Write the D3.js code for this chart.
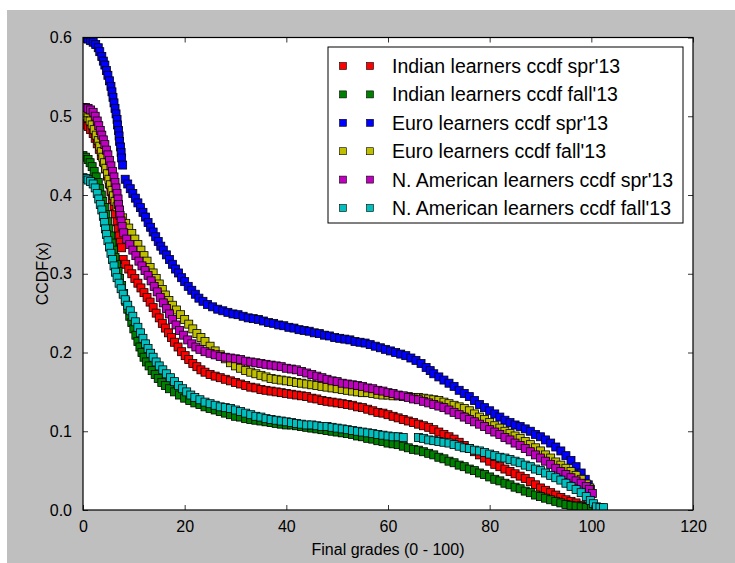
<!DOCTYPE html>
<html lang="en">
<head>
  <meta charset="UTF-8">
  <title>CCDF of final grades</title>
  <script src="https://cdn.jsdelivr.net/npm/d3@7"></script>
  <style>
    body { margin: 0; background: #fff; }
    svg { display: block; }
    text { font-family: "Liberation Sans", Arial, Helvetica, sans-serif; fill: #000; }
    .tick-label { font-size: 16px; }
    .axis-label { font-size: 16px; }
    .legend-text { font-size: 19.5px; }
  </style>
</head>
<body>
<div id="chart"></div>

<script>
  // series names, in the order they were plotted
  var seriesNames = [
    "Indian learners ccdf spr'13",
    "Indian learners ccdf fall'13",
    "Euro learners ccdf spr'13",
    "Euro learners ccdf fall'13",
    "N. American learners ccdf spr'13",
    "N. American learners ccdf fall'13"
  ];
  var seriesColors = ["#ff0000", "#008000", "#0000ff", "#bfbf00", "#bf00bf", "#00bfbf"];

  var xTicks = [0, 20, 40, 60, 80, 100, 120];
  var yTicks = [0.0, 0.1, 0.2, 0.3, 0.4, 0.5, 0.6];

  // [grade, ccdf]
  var indianSpr = [[0,0.490],[0.5,0.489],[1,0.487],[1.5,0.483],[2,0.478],[2.4,0.472],[2.8,0.465],[3.2,0.458],[3.6,0.450],[4,0.442],[4.4,0.433],[4.8,0.424],[5.2,0.414],[5.5,0.404],[5.8,0.394],[6.1,0.385],[6.4,0.376],[6.7,0.366],[7,0.357],[7.2,0.348],[7.4,0.340],[7.6,0.333],
    [7.9,0.318],[8.4,0.312],[9,0.306],[9.6,0.300],[10.2,0.294],[10.8,0.288],[11.4,0.282],[12,0.276],[12.6,0.270],[13.2,0.264],[13.8,0.257],[14.4,0.250],[15,0.244],[15.6,0.237],[16.2,0.231],[16.8,0.225],[17.4,0.219],[18,0.213],[18.7,0.207],[19.4,0.201],[20.1,0.196],[20.8,0.191],[21.6,0.186],[22.4,0.182],[23.2,0.178],[24,0.175],
    [25,0.172],[26,0.170],[27,0.168],[28,0.166],[29,0.164],[30,0.162],[31,0.160],[32,0.158],[33,0.156],[34,0.155],[35,0.153],[36,0.152],[37,0.151],[38,0.150],[39,0.149],[40,0.148],[41,0.147],[42,0.146],[43,0.145],[44,0.144],[45,0.142],[46,0.141],[47,0.139],[48,0.138],[49,0.137],[50,0.136],
    [51,0.135],[52,0.134],[53,0.133],[54,0.131],[55,0.130],[56,0.128],[57,0.126],[58,0.124],[59,0.123],[60,0.121],[61,0.119],[62,0.117],[63,0.115],[64,0.113],[65,0.111],[66,0.109],[67,0.107],[68,0.105],[69,0.102],[70,0.099],[71,0.096],[72,0.093],[73,0.090],[74,0.086],[75,0.082],
    [76,0.078],[77,0.074],[78,0.070],[79,0.066],[80,0.062],[81,0.058],[82,0.055],[83,0.052],[84,0.049],[85,0.046],[86,0.043],[87,0.040],[88,0.036],[89,0.032],[90,0.028],[91,0.025],[92,0.022],[93,0.019],[94,0.016],[95,0.013],[96,0.011],[97,0.009],[98,0.006],[99,0.004],[100,0.002]];

  var indianFall = [[0,0.450],[0.5,0.448],[1,0.445],[1.4,0.441],[1.8,0.436],[2.2,0.430],[2.6,0.423],[3,0.416],[3.3,0.408],[3.6,0.400],[3.9,0.392],[4.2,0.384],[4.5,0.375],[4.8,0.366],[5.1,0.357],[5.4,0.348],[5.7,0.339],[6,0.330],[6.3,0.321],[6.6,0.312],[6.9,0.303],[7.2,0.294],[7.6,0.285],
    [8,0.275],[8.4,0.265],[8.8,0.255],[9.2,0.246],[9.6,0.238],[10,0.230],[10.4,0.222],[10.8,0.214],[11.2,0.207],[11.6,0.200],[12,0.194],[12.5,0.188],[13,0.183],[13.6,0.177],[14.2,0.172],[14.8,0.167],[15.5,0.162],[16.2,0.158],[17,0.154],[18,0.150],[19,0.146],[20,0.142],
    [21,0.139],[22,0.136],[23,0.134],[24,0.131],[25,0.129],[26,0.127],[27,0.125],[28,0.123],[29,0.121],[30,0.119],[31,0.118],[32,0.116],[33,0.115],[34,0.114],[35,0.113],[36,0.112],[37,0.111],[38,0.110],[39,0.109],[40,0.108],[41,0.108],[42,0.107],[43,0.106],[44,0.105],[45,0.104],
    [46,0.103],[47,0.102],[48,0.101],[49,0.100],[50,0.099],[51,0.098],[52,0.097],[53,0.096],[54,0.094],[55,0.093],[56,0.091],[57,0.090],[58,0.088],[59,0.087],[60,0.085],[61,0.084],[62,0.083],[63,0.081],[64,0.079],[65,0.077],[66,0.076],[67,0.074],[68,0.072],[69,0.070],[70,0.067],
    [71,0.065],[72,0.062],[73,0.060],[74,0.057],[75,0.055],[76,0.052],[77,0.050],[78,0.047],[79,0.045],[80,0.042],[81,0.039],[82,0.037],[83,0.034],[84,0.032],[85,0.029],[86,0.027],[87,0.024],[88,0.022],[89,0.019],[90,0.017],[91,0.015],[92,0.013],[93,0.011],[94,0.009],[95,0.007],
    [96,0.006],[97,0.005],[98,0.004],[99,0.003],[100,0.002]];

  var euroSpr = [[0,0.600],[0.5,0.599],[1,0.598],[1.5,0.596],[2,0.594],[2.5,0.591],[3,0.587],[3.3,0.582],[3.7,0.576],[4,0.570],[4.3,0.565],[4.6,0.558],[4.9,0.552],[5.2,0.545],[5.5,0.538],[5.7,0.531],[5.9,0.524],[6.1,0.517],[6.3,0.510],[6.5,0.503],[6.7,0.496],[6.8,0.489],[7,0.482],
    [7.1,0.475],[7.2,0.468],[7.4,0.461],[7.5,0.454],[7.6,0.447],[7.8,0.438],
    [8.3,0.420],[8.8,0.414],[9.3,0.408],[9.8,0.402],[10.3,0.396],[10.8,0.390],[11.3,0.384],[11.8,0.378],[12.3,0.372],[12.8,0.365],[13.3,0.359],[13.8,0.353],[14.3,0.347],[14.8,0.341],[15.3,0.335],[15.8,0.330],[16.4,0.324],[17,0.318],[17.6,0.312],[18.2,0.306],[18.8,0.301],
    [19.4,0.295],[20,0.290],[20.7,0.284],[21.4,0.279],[22.1,0.274],[22.8,0.269],[23.6,0.265],[24.5,0.261],[25.5,0.258],[26.5,0.255],[27.5,0.253],[28.5,0.251],[29.5,0.249],[30.5,0.248],[31.5,0.246],[32.5,0.244],[33.5,0.243],[34.5,0.242],[35.5,0.240],[36.5,0.238],[37.5,0.237],
    [38.5,0.235],[39.5,0.234],[40.5,0.232],[41.5,0.231],[42.5,0.229],[43.5,0.228],[44.5,0.227],[45.5,0.225],[46.5,0.224],[47.5,0.222],[48.5,0.221],[49.5,0.219],[50.5,0.218],[51.5,0.217],[52.5,0.216],[53.5,0.214],[54.5,0.213],[55.5,0.212],[56.5,0.210],[57.5,0.208],[58.5,0.206],
    [59.5,0.204],[60.5,0.202],[61.5,0.200],[62.5,0.198],[63.5,0.196],[64.5,0.193],[65.5,0.190],[66.5,0.186],[67.5,0.181],[68.3,0.177],[69,0.173],[70,0.169],[71,0.165],[72,0.161],[73,0.157],[74,0.152],[75,0.148],[76,0.144],[77,0.139],[78,0.134],[79,0.130],[80,0.126],[81,0.122],
    [82,0.118],[83,0.114],[84,0.111],[85,0.108],[86,0.106],[87,0.103],[88,0.100],[89,0.096],[90,0.093],[91,0.089],[92,0.085],[93,0.080],[94,0.075],[95,0.069],[96,0.063],[97,0.055],[98,0.047],[98.8,0.039],[99.4,0.032],[99.8,0.026]];

  var euroFall = [[0,0.503],[0.5,0.501],[1,0.498],[1.4,0.494],[1.8,0.489],[2.2,0.483],[2.6,0.476],[3,0.469],[3.3,0.462],[3.6,0.455],[3.9,0.448],[4.2,0.441],[4.5,0.434],[4.8,0.427],[5.1,0.420],[5.4,0.413],[5.7,0.406],[6,0.399],[6.3,0.392],[6.7,0.385],[7.2,0.378],[7.8,0.371],
    [8.4,0.364],[9,0.358],[9.6,0.351],[10.2,0.344],[10.8,0.337],[11.4,0.330],[12,0.323],[12.6,0.316],[13.2,0.308],[13.8,0.301],[14.4,0.294],[15,0.287],[15.6,0.280],[16.2,0.273],[16.9,0.266],[17.6,0.260],[18.4,0.254],[19.2,0.248],[20,0.242],[20.8,0.236],[21.6,0.230],
    [22.4,0.224],[23.2,0.219],[24,0.214],[25,0.208],[26,0.202],[27,0.197],[28,0.192],[29,0.187],[30,0.183],[31,0.180],[32,0.177],[33,0.175],[34,0.173],[35,0.171],[36,0.169],[37,0.167],[38,0.166],[39,0.165],[40,0.164],[41,0.163],[42,0.162],[43,0.161],[44,0.160],[45,0.159],
    [46,0.158],[47,0.157],[48,0.156],[49,0.155],[50,0.154],[51,0.153],[52,0.152],[53,0.151],[54,0.150],[55,0.149],[56,0.149],[57,0.148],[58,0.147],[59,0.146],[60,0.146],[61,0.145],[62,0.145],[63,0.144],[64,0.144],[65,0.143],[66,0.143],[67,0.142],[68,0.141],[69,0.140],[70,0.139],
    [71,0.137],[72,0.135],[73,0.133],[74,0.131],[75,0.129],[76,0.126],[77,0.122],[78,0.118],[79,0.115],[80,0.111],[81,0.107],[82,0.104],[83,0.100],[84,0.097],[85,0.094],[86,0.091],[87,0.087],[88,0.083],[89,0.079],[90,0.075],[91,0.070],[92,0.066],[93,0.061],[94,0.057],[95,0.053],
    [96,0.049],[97,0.044],[98,0.039],[99,0.033],[99.7,0.028]];

  var naSpr = [[0,0.511],[0.5,0.511],[1,0.510],[1.5,0.508],[2,0.505],[2.4,0.500],[2.8,0.494],[3.1,0.488],[3.4,0.482],[3.7,0.476],[4,0.470],[4.3,0.464],[4.6,0.457],[4.9,0.451],[5.2,0.444],[5.5,0.437],[5.8,0.430],[6.1,0.423],[6.3,0.416],[6.5,0.409],[6.7,0.402],[6.9,0.395],[7,0.388],
    [7.2,0.381],[7.3,0.374],[7.5,0.367],[7.7,0.360],[8,0.352],[8.6,0.344],[9.2,0.337],[9.8,0.330],[10.4,0.323],[11,0.316],[11.6,0.310],[12.2,0.304],[12.8,0.298],[13.4,0.291],[14,0.284],[14.6,0.277],[15.2,0.270],[15.8,0.263],[16.4,0.256],[17,0.249],[17.6,0.242],[18.3,0.235],
    [19,0.228],[19.8,0.222],[20.6,0.216],[21.4,0.211],[22.2,0.207],[23,0.204],[24,0.201],[25,0.199],[26,0.197],[27,0.195],[28,0.194],[29,0.193],[30,0.192],[31,0.191],[32,0.189],[33,0.188],[34,0.187],[35,0.186],[36,0.185],[37,0.184],[38,0.183],[39,0.182],[40,0.180],[41,0.179],
    [42,0.178],[43,0.176],[44,0.174],[45,0.172],[46,0.170],[47,0.168],[48,0.166],[49,0.164],[50,0.163],[51,0.161],[52,0.160],[53,0.159],[54,0.158],[55,0.157],[56,0.155],[57,0.154],[58,0.152],[59,0.151],[60,0.149],[61,0.148],[62,0.146],[63,0.145],[64,0.143],[65,0.141],[66,0.140],
    [67,0.138],[68,0.136],[69,0.134],[70,0.132],[71,0.130],[72,0.127],[73,0.124],[74,0.121],[75,0.118],[76,0.115],[77,0.112],[78,0.109],[79,0.106],[80,0.102],[81,0.099],[82,0.096],[83,0.092],[84,0.089],[85,0.085],[86,0.082],[87,0.078],[88,0.074],[89,0.070],[90,0.066],[91,0.062],
    [92,0.058],[93,0.053],[94,0.049],[95,0.045],[96,0.041],[97,0.037],[98,0.034],[99,0.030],[99.6,0.026],[100.2,0.021]];

  var naFall = [[0,0.422],[0.5,0.421],[1,0.419],[1.5,0.417],[2,0.414],[2.4,0.409],[2.8,0.402],[3.1,0.395],[3.4,0.388],[3.7,0.381],[4,0.373],[4.2,0.365],[4.4,0.357],[4.6,0.350],[4.9,0.342],[5.2,0.334],[5.5,0.326],[5.8,0.318],[6.1,0.310],[6.4,0.302],[6.7,0.295],[7.1,0.288],
    [7.5,0.281],[7.9,0.274],[8.3,0.267],[8.8,0.260],[9.3,0.253],[9.8,0.246],[10.3,0.239],[10.8,0.232],[11.3,0.225],[11.8,0.218],[12.3,0.211],[12.8,0.205],[13.3,0.199],[13.8,0.194],[14.4,0.188],[15,0.183],[15.7,0.178],[16.4,0.173],[17.2,0.168],[18,0.163],[18.8,0.158],
    [19.6,0.154],[20.4,0.150],[21.2,0.146],[22,0.143],[23,0.140],[24,0.137],[25,0.135],[26,0.133],[27,0.131],[28,0.130],[29,0.129],[30,0.127],[31,0.125],[32,0.123],[33,0.121],[34,0.119],[35,0.118],[36,0.116],[37,0.115],[38,0.114],[39,0.113],[40,0.112],[41,0.111],[42,0.110],
    [43,0.109],[44,0.108],[45,0.108],[46,0.107],[47,0.106],[48,0.106],[49,0.105],[50,0.104],[51,0.103],[52,0.102],[53,0.101],[54,0.100],[55,0.099],[56,0.098],[57,0.097],[58,0.096],[59,0.095],[60,0.094],[61,0.093],[62,0.093],[63,0.092],
    [66,0.092],[67,0.091],[68,0.089],[69,0.088],[70,0.087],[71,0.086],[72,0.085],[73,0.083],[74,0.081],[75,0.079],[76,0.078],[77,0.076],[78,0.075],[79,0.073],[80,0.071],[81,0.069],[82,0.067],[83,0.066],[84,0.064],[85,0.062],[86,0.060],[87,0.057],[88,0.055],[89,0.052],
    [90,0.050],[91,0.047],[92,0.044],[93,0.041],[94,0.038],[95,0.034],[96,0.030],[97,0.026],[98,0.022],[99,0.017],[99.8,0.012],[100.4,0.008],[101,0.004],[101.7,0.003],[102.4,0.003]];

  var allSeries = [indianSpr, indianFall, euroSpr, euroFall, naSpr, naFall];

  var width = 735, height = 563;
  var margin = {left: 83, top: 37.5, right: 42, bottom: 53};
  var plotW = width - margin.left - margin.right;
  var plotH = height - margin.top - margin.bottom;
  var markerSize = 8;

  var svg = d3.select("#chart").append("svg")
    .attr("width", width)
    .attr("height", height);

  // grey figure background
  svg.append("rect")
    .attr("x", 7).attr("y", 10)
    .attr("width", width - 7).attr("height", height - 10)
    .attr("fill", "#bfbfbf");

  var x = d3.scaleLinear().domain([0, 120]).range([0, plotW]);
  var y = d3.scaleLinear().domain([0, 0.6]).range([plotH, 0]);

  var g = svg.append("g").attr("transform", "translate(" + margin.left + "," + margin.top + ")");

  g.append("rect")
    .attr("width", plotW).attr("height", plotH)
    .attr("fill", "#fff");

  // markers
  var clipId = "plot-clip";
  g.append("clipPath").attr("id", clipId)
    .append("rect").attr("width", plotW).attr("height", plotH);

  var marks = g.append("g").attr("clip-path", "url(#" + clipId + ")");
  allSeries.forEach(function(data, i) {
    marks.append("g")
      .selectAll("rect")
      .data(data)
      .enter()
      .append("rect")
      .attr("x", function(d) { return x(d[0]) - markerSize / 2; })
      .attr("y", function(d) { return y(d[1]) - markerSize / 2; })
      .attr("width", markerSize)
      .attr("height", markerSize)
      .attr("fill", seriesColors[i])
      .attr("stroke", "#000")
      .attr("stroke-width", 0.8);
  });

  // axes, ticks inside on all four sides
  var xBottom = d3.axisBottom(x).tickValues(xTicks).tickSizeInner(-5).tickSizeOuter(0).tickPadding(11);
  var xTop = d3.axisTop(x).tickValues(xTicks).tickSizeInner(-5).tickSizeOuter(0).tickFormat("");
  var yLeft = d3.axisLeft(y).tickValues(yTicks).tickSizeInner(-5).tickSizeOuter(0).tickPadding(11).tickFormat(d3.format(".1f"));
  var yRight = d3.axisRight(y).tickValues(yTicks).tickSizeInner(-5).tickSizeOuter(0).tickFormat("");

  function styleAxis(sel) {
    sel.select(".domain").remove();
    sel.selectAll(".tick line").attr("stroke", "#000").attr("stroke-width", 0.8);
    sel.selectAll(".tick text").attr("class", "tick-label").attr("font-family", null).attr("font-size", null);
  }

  g.append("g").attr("transform", "translate(0," + plotH + ")").call(xBottom).call(styleAxis);
  g.append("g").call(xTop).call(styleAxis);
  g.append("g").call(yLeft).call(styleAxis);
  g.append("g").attr("transform", "translate(" + plotW + ",0)").call(yRight).call(styleAxis);

  g.append("rect")
    .attr("width", plotW).attr("height", plotH)
    .attr("fill", "none").attr("stroke", "#000").attr("stroke-width", 1.2);

  // axis labels
  svg.append("text")
    .attr("class", "axis-label")
    .attr("x", margin.left + plotW / 2)
    .attr("y", 555)
    .attr("text-anchor", "middle")
    .text("Final grades (0 - 100)");

  svg.append("text")
    .attr("class", "axis-label")
    .attr("transform", "translate(48," + (margin.top + plotH / 2) + ") rotate(-90)")
    .attr("text-anchor", "middle")
    .text("CCDF(x)");

  // legend
  var legend = svg.append("g").attr("transform", "translate(328,47)");
  legend.append("rect")
    .attr("width", 355).attr("height", 176)
    .attr("fill", "#fff").attr("stroke", "#000").attr("stroke-width", 1);

  var rowY = d3.scalePoint().domain(seriesNames).range([19, 161]);

  var rows = legend.selectAll(".row")
    .data(seriesNames)
    .enter()
    .append("g")
    .attr("transform", function(d) { return "translate(0," + rowY(d) + ")"; });

  [15, 42].forEach(function(mx) {
    rows.append("rect")
      .attr("x", mx - 3.5).attr("y", -3.5)
      .attr("width", 7).attr("height", 7)
      .attr("fill", function(d, i) { return seriesColors[i]; })
      .attr("stroke", "#000").attr("stroke-width", 0.6);
  });

  rows.append("text")
    .attr("class", "legend-text")
    .attr("x", 64)
    .attr("dy", "0.36em")
    .text(function(d) { return d; });
</script>

</body>
</html>
